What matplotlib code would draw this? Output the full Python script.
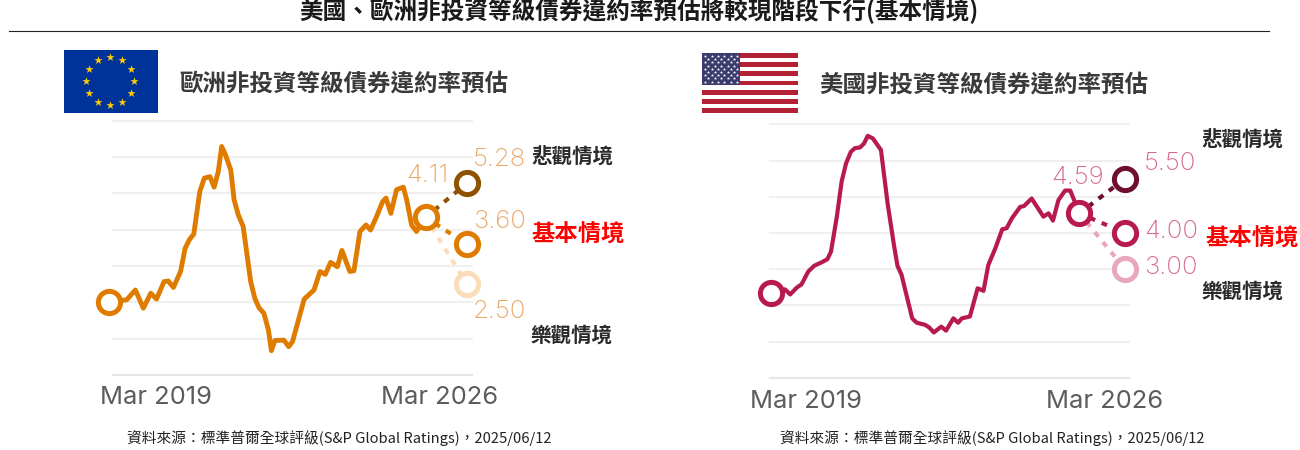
#!/usr/bin/env python3
"""Euro and US speculative-grade default rate forecasts, side by side."""

import numpy as np
import matplotlib

matplotlib.use("Agg")
import matplotlib.pyplot as plt
from matplotlib.patches import Rectangle

CJK = ["Noto Sans CJK TC", "DejaVu Sans"]
NUM = ["Inter", "DejaVu Sans"]

TITLE = "美國、歐洲非投資等級債券違約率預估將較現階段下行(基本情境)"
EU_TITLE = "歐洲非投資等級債券違約率預估"
US_TITLE = "美國非投資等級債券違約率預估"
SOURCE = "資料來源：標準普爾全球評級(S&P Global Ratings)，2025/06/12"
SCENARIOS = ["悲觀情境", "基本情境", "樂觀情境"]
DATE_LABELS = ["Mar 2019", "Mar 2026"]

# months since Mar 2019, default rate in %
EU_MONTHS = [0, 4.7, 7.0, 9.1, 11.1, 12.6, 14.6, 15.7, 17.1, 19.0, 20.2, 21.3, 22.5, 24.1,
             25.3, 26.8, 27.9, 29.0, 29.9, 30.9, 32.3, 33.2, 34.3, 35.6, 37.6, 38.7, 39.8,
             41.1, 42.3, 43.1, 44.0, 46.4, 47.7, 48.7, 51.8, 54.4, 56.0, 57.4, 58.8, 60.6,
             61.8, 63.9, 65.0, 66.6, 68.2, 69.4, 71.0, 72.6, 73.5, 74.8, 76.3, 78.1, 79.0,
             80.3, 81.6, 84]
EU_RATE = [2.02, 2.07, 2.34, 1.84, 2.25, 2.09, 2.57, 2.59, 2.41, 2.85, 3.49, 3.72, 3.88, 5.05,
           5.42, 5.46, 5.17, 5.60, 6.29, 6.06, 5.65, 4.82, 4.41, 4.09, 2.57, 2.11, 1.85,
           1.70, 1.24, 0.67, 0.95, 0.96, 0.78, 0.92, 2.09, 2.34, 2.85, 2.77, 3.10, 2.98,
           3.43, 2.85, 2.87, 3.95, 4.13, 3.99, 4.36, 4.77, 4.87, 4.45, 5.10, 5.17, 4.82,
           4.13, 3.95, 4.34]
EU_FORECAST = [5.28, 3.60, 2.50]
EU_FORECAST_MONTH = 95
EU_LABEL = "4.11"

US_MONTHS = [0, 3.9, 5.3, 7.1, 8.4, 10.2, 11.8, 13.7, 15.4, 16.4, 18.0, 19.3, 20.5, 21.8, 22.9,
             24.3, 25.4, 26.4, 27.8, 30.0, 31.8, 33.6, 34.5, 35.6, 38.5, 39.7, 42.0, 43.1,
             44.4, 46.4, 47.7, 49.7, 51.0, 52.0, 54.2, 56.3, 57.9, 59.2, 61.1, 63.0, 64.2,
             65.6, 67.9, 68.9, 71.0, 74.2, 75.6, 76.8, 78.3, 80.1, 81.5, 84]
US_RATE = [2.33, 2.44, 2.30, 2.49, 2.58, 2.93, 3.09, 3.18, 3.27, 3.48, 4.45, 5.42, 5.92, 6.24, 6.34,
           6.36, 6.47, 6.68, 6.61, 6.29, 4.82, 3.62, 3.09, 2.84, 1.64, 1.52, 1.46, 1.39,
           1.25, 1.41, 1.30, 1.64, 1.52, 1.64, 1.69, 2.47, 2.40, 3.11, 3.57, 4.10, 4.13,
           4.40, 4.72, 4.74, 4.95, 4.45, 4.54, 4.34, 4.91, 5.17, 5.17, 4.54]
US_FORECAST = [5.50, 4.00, 3.00]
US_FORECAST_MONTH = 96.4
US_LABEL = "4.59"

GRID_LEVELS = [0, 1, 2, 3, 4, 5, 6, 7]

W, H = 1300, 450


def panel(fig, x0, x1, y0, y1, grid_x, months, rate, fc_month, forecast, colors, lw):
    """Chart axes placed by pixel box: x0..x1 is month 0..fc_month, y0..y1 is 0..7 %."""
    ax = fig.add_axes([x0 / W, 1 - y0 / H, (x1 - x0) / W, (y0 - y1) / H])
    ax.set_xlim(0, fc_month)
    ax.set_ylim(0, 7)
    ax.axis("off")
    ax.patch.set_alpha(0)

    per_px = fc_month / (x1 - x0)
    gx = [(grid_x[0] - x0) * per_px, (grid_x[1] - x0) * per_px]
    for level in GRID_LEVELS:
        c = "#e6e7e9" if level == 0 else "#f0f0f0"
        ax.plot(gx, [level, level], color=c, lw=1.5, clip_on=False, zorder=1)

    main, dark, light = colors
    # dashes first so the rings cover their ends
    for val, c in zip(forecast, [dark, main, light]):
        ax.plot([months[-1], fc_month], [rate[-1], val], color=c, lw=3.0,
                linestyle=(0.4, (1.4, 1.7)), clip_on=False, zorder=2)
    ax.plot(months, rate, color=main, lw=lw, solid_joinstyle="round",
            clip_on=False, zorder=3)

    ring = dict(marker="o", ms=16, mew=3.6, mfc="white", ls="none", clip_on=False, zorder=4)
    ax.plot(months[0], rate[0], mec=main, **ring)
    ax.plot(months[-1], rate[-1], mec=main, **ring)
    for val, c in zip(forecast, [dark, main, light]):
        ax.plot(fc_month, val, mec=c, **ring)
    return ax


def main():
    fig = plt.figure(figsize=(13, 4.5), dpi=100, facecolor="white")
    bg = fig.add_axes([0, 0, 1, 1])
    bg.set_xlim(0, W)
    bg.set_ylim(H, 0)
    bg.axis("off")

    bg.text(639, 11, TITLE, family=CJK, fontsize=17, fontweight="bold", color="#1a1a1a",
            ha="center", va="center")
    bg.plot([9, 1269], [31, 31], color="#222222", lw=0.8)

    # EU flag
    bg.add_patch(Rectangle((64, 50), 94, 63, fc="#003399", ec="none"))
    ang = np.deg2rad(np.arange(0, 360, 30))
    bg.scatter(110 + 24 * np.cos(ang), 81 + 24 * np.sin(ang), marker="*", s=38,
               color="#ffcc00", linewidths=0, zorder=3)

    # US flag
    stripe = 60 / 13
    for i in range(0, 13, 2):
        bg.add_patch(Rectangle((702, 53 + i * stripe), 96, stripe, fc="#b22234", ec="none"))
    bg.add_patch(Rectangle((702, 53), 38, stripe * 7, fc="#3c3b6e", ec="none", zorder=2))
    for row in range(9):
        n = 6 if row % 2 == 0 else 5
        off = 3.2 if row % 2 == 0 else 6.4
        for col in range(n):
            bg.scatter(702 + off + col * 6.4, 56 + row * 3.2, marker="*", s=6,
                       color="white", linewidths=0, zorder=3)

    bg.text(179, 83, EU_TITLE, family=CJK, fontsize=16.9, fontweight="bold", color="#3a3a3a",
            ha="left", va="center")
    bg.text(819, 84, US_TITLE, family=CJK, fontsize=16.9, fontweight="bold", color="#3a3a3a",
            ha="left", va="center")

    panel(fig, 109, 467, 375, 120.7, (113, 472), EU_MONTHS, EU_RATE, EU_FORECAST_MONTH,
          EU_FORECAST, ("#df7c00", "#8f5200", "#fbdcb8"), 3.5)
    panel(fig, 770.7, 1125, 377.7, 124.3, (770, 1129), US_MONTHS, US_RATE, US_FORECAST_MONTH,
          US_FORECAST, ("#b81a50", "#6e0f30", "#e9a7bd"), 3.0)

    # value labels
    num = dict(family=NUM, fontweight="light", fontsize=18.6, va="center")
    eu_c, us_c = "#e9a562", "#d5688f"
    bg.text(427, 175, EU_LABEL, color=eu_c, ha="center", **num)
    for val, y in zip(EU_FORECAST, [159, 222, 312]):
        bg.text(473, y, f"{val:.2f}", color=eu_c, ha="left", **num)
    bg.text(1078, 177, US_LABEL, color=us_c, ha="center", **num)
    for val, y in zip(US_FORECAST, [164, 232, 267]):
        bg.text(1144, y, f"{val:.2f}", color=us_c, ha="left", **num)

    # scenario names
    name = dict(family=CJK, fontsize=14.8, fontweight="bold", color="#2a2a2a", va="center")
    red = dict(family=CJK, fontsize=16.8, fontweight="bold", color="#ff0000", va="center")
    bg.text(531, 157, SCENARIOS[0], ha="left", **name)
    bg.text(531, 235, SCENARIOS[1], ha="left", **red)
    bg.text(531, 335, SCENARIOS[2], ha="left", **name)
    bg.text(1202, 140, SCENARIOS[0], ha="left", **name)
    bg.text(1205, 239, SCENARIOS[1], ha="left", **red)
    bg.text(1202, 291, SCENARIOS[2], ha="left", **name)

    # dates
    date = dict(family=NUM, fontsize=18.4, color="#5c5c5c", ha="left", va="center")
    bg.text(100, 398, DATE_LABELS[0], **date)
    bg.text(381, 398, DATE_LABELS[1], **date)
    bg.text(750, 402, DATE_LABELS[0], **date)
    bg.text(1046, 402, DATE_LABELS[1], **date)

    # sources
    bg.text(339.5, 438, SOURCE, family=CJK, fontsize=10.6, color="#222222", ha="center", va="center")
    bg.text(992, 438, SOURCE, family=CJK, fontsize=10.6, color="#222222", ha="center", va="center")

    fig.savefig("out.png", dpi=100)
    plt.close(fig)


if __name__ == "__main__":
    main()
